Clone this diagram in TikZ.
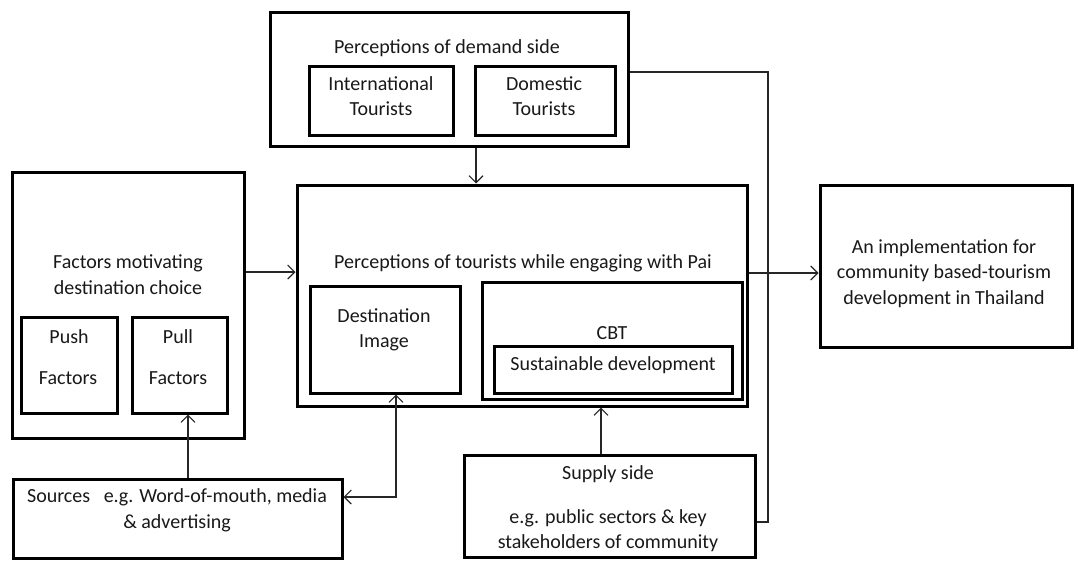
\documentclass[tikz,border=0pt]{standalone}
\usepackage{fontspec}
\setmainfont{Carlito}
\usetikzlibrary{arrows.meta}
\begin{document}
\begin{tikzpicture}[x=1pt,y=-1pt,
  box/.style={draw=black,line width=3pt,inner sep=0pt,minimum width=#1},
  lbl/.style={text=black!90,inner sep=0pt,align=center,font=\fontsize{20}{25.5}\selectfont},
  conn/.style={line width=1.1pt,draw=black!85},
  arr/.style={conn,-{Straight Barb[length=7pt,width=14pt,line width=1.1pt]}},
  darr/.style={conn,{Straight Barb[length=7pt,width=14pt,line width=1.1pt]}-{Straight Barb[length=7pt,width=14pt,line width=1.1pt]}}]
\useasboundingbox[fill=white] (0,0) rectangle (1078,563);

% boxes
\node[box=358pt,minimum height=134pt] (demand) at (449,79) {};
\node[box=144pt,minimum height=69pt] (intl) at (381,100.5) {};
\node[box=140pt,minimum height=69pt] (dom) at (545,100.5) {};
\node[box=450pt,minimum height=221pt] (main) at (522,295.5) {};
\node[box=150pt,minimum height=107pt] (dest) at (385,339.5) {};
\node[box=260pt,minimum height=117pt] (cbt) at (612,340.5) {};
\node[box=238pt,minimum height=47pt] (sust) at (613,369.5) {};
\node[box=252pt,minimum height=162pt] (impl) at (946,266) {};
\node[box=232pt,minimum height=266pt] (factors) at (128,305) {};
\node[box=96pt,minimum height=96pt] (push) at (69,365) {};
\node[box=95pt,minimum height=96pt] (pull) at (179.5,365) {};
\node[box=329pt,minimum height=79pt] (sources) at (177.5,518.5) {};
\node[box=291pt,minimum height=102pt] (supply) at (609.5,506) {};

% labels
\node[lbl] (tdemand) at (447,48) {Perceptions of demand side};
\node[lbl] (tintl) at (381,96) {International\\Tourists};
\node[lbl] (tdom) at (544,96) {Domestic\\Tourists};
\node[lbl] (tmain) at (523,263) {Perceptions of tourists while engaging with Pai};
\node[lbl] (tdest) at (384,330) {Destination\\Image};
\node[lbl] (tcbt) at (612,333) {CBT};
\node[lbl] (tsust) at (613,365) {Sustainable development};
\node[lbl] (timpl) at (944,273.5) {An implementation for\\community based-tourism\\development in Thailand};
\node[lbl] (tfactors) at (128,274.5) {Factors motivating\\destination choice};
\node[lbl] (tpush1) at (69,337) {Push};
\node[lbl] (tpush2) at (68,378) {Factors};
\node[lbl] (tpull1) at (178,337) {Pull};
\node[lbl] (tpull2) at (178,378) {Factors};
\node[lbl] (tsources) at (177,510.5) {Sources\ \ \ e.g. Word-of-mouth, media\\\& advertising};
\node[lbl] (tsupply) at (608,474) {Supply side};
\node[lbl] (tsupply2) at (608,530.5) {e.g. public sectors \& key\\stakeholders of community};

% connector guide points
\coordinate (xdm) at (476,0);
\coordinate (yfm) at (0,272);
\coordinate (ymi) at (0,273);
\coordinate (xsp) at (188,0);
\coordinate (xds) at (396,0);
\coordinate (yds) at (0,497);
\coordinate (xsu) at (601,0);
\coordinate (ydr) at (0,72);
\coordinate (ysr) at (0,522);
\coordinate (xfb) at (768,0);

% connectors
\draw[arr] (demand.south -| xdm) -- (main.north -| xdm);
\draw[arr] (factors.east |- yfm) -- (main.west |- yfm);
\draw[arr] (main.east |- ymi) -- (impl.west |- ymi);
\draw[arr] (sources.north -| xsp) -- (pull.south -| xsp);
\draw[darr] (sources.east |- yds) -- (xds |- yds) -- (dest.south -| xds);
\draw[arr] (supply.north -| xsu) -- (main.south -| xsu);
\draw[conn] (demand.east |- ydr) -- (xfb |- ydr) -- (xfb |- ysr) -- (supply.east |- ysr);
\end{tikzpicture}
\end{document}
